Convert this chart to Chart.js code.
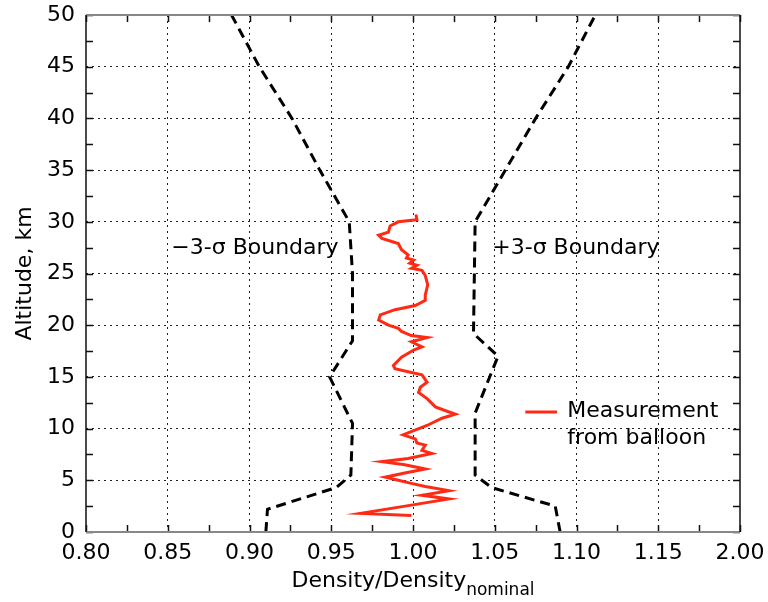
<!DOCTYPE html>
<html>
<head>
<meta charset="utf-8">
<script src="https://cdn.jsdelivr.net/npm/chart.js@4.4.1/dist/chart.umd.min.js"></script>
<style>
  html, body { margin: 0; padding: 0; background: #fff; }
</style>
</head>
<body>
<canvas id="densityChart" width="768" height="602"></canvas>
<script>
// axis ticks
const xTicks = [0.80, 0.85, 0.90, 0.95, 1.00, 1.05, 1.10, 1.15, 1.20];
const xTickLabels = ['0.80', '0.85', '0.90', '0.95', '1.00', '1.05', '1.10', '1.15', '2.00'];
const yTicks = [0, 5, 10, 15, 20, 25, 30, 35, 40, 45, 50];

// -3 sigma boundary (altitude km, density ratio)
const lowerAlt = [0, 2.2, 4.3, 5.5, 10.5, 15.0, 18.5, 25.0, 30.0, 35.0, 40.0, 45.0, 50.0];
const lowerRatio = [0.910, 0.911, 0.953, 0.962, 0.963, 0.949, 0.963, 0.963, 0.961, 0.943, 0.926, 0.906, 0.889];

// +3 sigma boundary
const upperAlt = [0, 2.5, 4.3, 5.5, 11.5, 17.0, 19.2, 30.0, 35.0, 40.0, 45.0, 50.0];
const upperRatio = [1.090, 1.087, 1.048, 1.038, 1.038, 1.052, 1.037, 1.038, 1.0565, 1.075, 1.095, 1.1115];

// balloon measurement
const measAlt = [1.6, 1.8, 2.6, 3.2, 3.55, 4.0, 4.4, 4.7, 5.0, 5.3, 5.7, 6.1, 6.5, 6.8, 7.1, 7.6, 7.9,
  8.4, 8.6, 9.0, 9.4, 9.8, 10.3, 11.0, 11.4, 11.8, 12.1, 12.9, 13.5, 14.0, 14.5, 15.2, 15.5, 15.8,
  16.1, 16.9, 17.6, 17.9, 18.4, 18.8, 19.0, 19.4, 19.7, 20.0, 20.5, 21.0, 21.5, 21.9, 22.4, 22.9,
  23.9, 24.8, 25.3, 25.5, 25.8, 26.0, 26.3, 26.5, 26.8, 27.3, 27.9, 28.4, 28.7, 29.0, 29.6, 30.0,
  30.2, 30.7];
const measRatio = [0.999, 0.968, 0.999, 1.022, 1.0055, 1.022, 1.0075, 0.999, 0.991, 0.983, 0.995,
  1.0075, 0.995, 0.981, 0.997, 1.0116, 1.0055, 1.0075, 1.0024, 1.0014, 0.994, 1.0004, 1.0086,
  1.0177, 1.0259, 1.0187, 1.0137, 1.0086, 1.0034, 1.0045, 1.0086, 1.0055, 0.997, 0.989, 0.988,
  0.993, 1.0004, 1.0055, 0.999, 1.0086, 0.999, 0.993, 0.991, 0.985, 0.979, 0.980, 0.989, 1.0014,
  1.0075, 1.0075, 1.009, 1.0075, 1.0055, 0.999, 1.0024, 0.998, 1.0004, 0.996, 0.997, 0.993, 0.991,
  0.981, 0.979, 0.985, 0.986, 0.991, 1.0024, 1.0018];

const FONT = 'DejaVu Sans';
const RED = '#ff2a14';

function toPoints(alts, ratios) {
    return alts.map((a, i) => ({ x: ratios[i], y: a }));
}

const decorPlugin = {
    id: 'decor',
    afterDatasetsDraw(chart) {
        const { ctx, chartArea: a, scales: { x, y } } = chart;
        ctx.save();

        // inward ticks, major and minor
        const tl = 7;
        ctx.strokeStyle = '#111';
        ctx.lineWidth = 1.5;
        ctx.beginPath();
        const xAll = [];
        xTicks.forEach((v, i) => {
            xAll.push(v);
            if (i < xTicks.length - 1) xAll.push((v + xTicks[i + 1]) / 2);
        });
        xAll.forEach(v => {
            const px = Math.round(x.getPixelForValue(v)) + 0.5;
            ctx.moveTo(px, a.bottom); ctx.lineTo(px, a.bottom - tl);
            ctx.moveTo(px, a.top); ctx.lineTo(px, a.top + tl);
        });
        const yAll = [];
        yTicks.forEach((v, i) => {
            yAll.push(v);
            if (i < yTicks.length - 1) yAll.push((v + yTicks[i + 1]) / 2);
        });
        yAll.forEach(v => {
            const py = Math.round(y.getPixelForValue(v)) + 0.5;
            ctx.moveTo(a.left, py); ctx.lineTo(a.left + tl, py);
            ctx.moveTo(a.right, py); ctx.lineTo(a.right - tl, py);
        });
        ctx.stroke();

        // frame
        ctx.strokeStyle = '#888';
        ctx.lineWidth = 2;
        ctx.beginPath();
        ctx.moveTo(a.left, a.top); ctx.lineTo(a.right, a.top);
        ctx.moveTo(a.left, a.bottom); ctx.lineTo(a.right, a.bottom);
        ctx.stroke();
        ctx.strokeStyle = '#111';
        ctx.lineWidth = 1.5;
        ctx.beginPath();
        ctx.moveTo(a.left, a.top); ctx.lineTo(a.left, a.bottom);
        ctx.moveTo(a.right, a.top); ctx.lineTo(a.right, a.bottom);
        ctx.stroke();

        // boundary labels
        ctx.fillStyle = '#000';
        ctx.font = '22px "' + FONT + '"';
        ctx.textBaseline = 'middle';
        ctx.textAlign = 'right';
        ctx.fillText('\u22123-\u03c3 Boundary', x.getPixelForValue(0.9545), y.getPixelForValue(27.4));
        ctx.textAlign = 'left';
        ctx.fillText('+3-\u03c3 Boundary', x.getPixelForValue(1.0485), y.getPixelForValue(27.4));

        // legend
        ctx.strokeStyle = RED;
        ctx.lineWidth = 3;
        ctx.beginPath();
        const ly = y.getPixelForValue(11.6);
        ctx.moveTo(x.getPixelForValue(1.0687), ly);
        ctx.lineTo(x.getPixelForValue(1.0881), ly);
        ctx.stroke();
        ctx.fillText('Measurement', x.getPixelForValue(1.0944), ly - 1);
        ctx.fillText('from balloon', x.getPixelForValue(1.0944), ly + 26);

        // axis titles
        ctx.save();
        ctx.translate(25, (a.top + a.bottom) / 2);
        ctx.rotate(-Math.PI / 2);
        ctx.textAlign = 'center';
        ctx.fillText('Altitude, km', 0, 0);
        ctx.restore();

        ctx.textBaseline = 'alphabetic';
        ctx.font = '22px "' + FONT + '"';
        const mainT = 'Density/Density';
        const w1 = ctx.measureText(mainT).width;
        ctx.font = '17px "' + FONT + '"';
        const w2 = ctx.measureText('nominal').width;
        const x0 = (a.left + a.right) / 2 - (w1 + w2) / 2;
        ctx.font = '22px "' + FONT + '"';
        ctx.textAlign = 'left';
        ctx.fillText(mainT, x0, a.bottom + 55);
        ctx.font = '17px "' + FONT + '"';
        ctx.fillText('nominal', x0 + w1, a.bottom + 63);

        ctx.restore();
    }
};

const gridColor = (n) => (c) => (c.index === 0 || c.index === n - 1) ? 'rgba(0,0,0,0)' : '#222';

new Chart(document.getElementById('densityChart').getContext('2d'), {
    type: 'scatter',
    data: {
        datasets: [
            {
                label: '-3 sigma',
                data: toPoints(lowerAlt, lowerRatio),
                showLine: true,
                borderColor: '#000',
                borderWidth: 3,
                borderDash: [10, 6],
                pointRadius: 0,
                tension: 0
            },
            {
                label: '+3 sigma',
                data: toPoints(upperAlt, upperRatio),
                showLine: true,
                borderColor: '#000',
                borderWidth: 3,
                borderDash: [10, 6],
                pointRadius: 0,
                tension: 0
            },
            {
                label: 'Measurement from balloon',
                data: toPoints(measAlt, measRatio),
                showLine: true,
                borderColor: RED,
                borderWidth: 3,
                pointRadius: 0,
                tension: 0
            }
        ]
    },
    options: {
        responsive: false,
        animation: false,
        layout: { padding: { top: 15, right: 28, left: 0, bottom: 0 } },
        plugins: {
            legend: { display: false },
            tooltip: { enabled: false }
        },
        scales: {
            x: {
                type: 'linear',
                min: 0.8,
                max: 1.2,
                afterBuildTicks: s => { s.ticks = xTicks.map(v => ({ value: v })); },
                afterFit: s => { s.height = 70; s.paddingLeft = 0; s.paddingRight = 0; },
                grid: { drawTicks: false, color: gridColor(xTicks.length), lineWidth: 1 },
                border: { display: false, dash: [2, 4] },
                ticks: {
                    padding: 8,
                    color: '#000',
                    maxRotation: 0,
                    autoSkip: false,
                    font: { family: FONT, size: 22 },
                    callback: (v, i) => xTickLabels[i]
                }
            },
            y: {
                type: 'linear',
                min: 0,
                max: 50,
                afterBuildTicks: s => { s.ticks = yTicks.map(v => ({ value: v })); },
                afterFit: s => { s.width = 86; s.paddingTop = 0; s.paddingBottom = 0; },
                grid: { drawTicks: false, color: gridColor(yTicks.length), lineWidth: 1 },
                border: { display: false, dash: [2, 4] },
                ticks: {
                    padding: 11,
                    color: '#000',
                    autoSkip: false,
                    font: { family: FONT, size: 22 },
                    callback: v => String(v)
                }
            }
        }
    },
    plugins: [decorPlugin]
});
</script>
</body>
</html>
